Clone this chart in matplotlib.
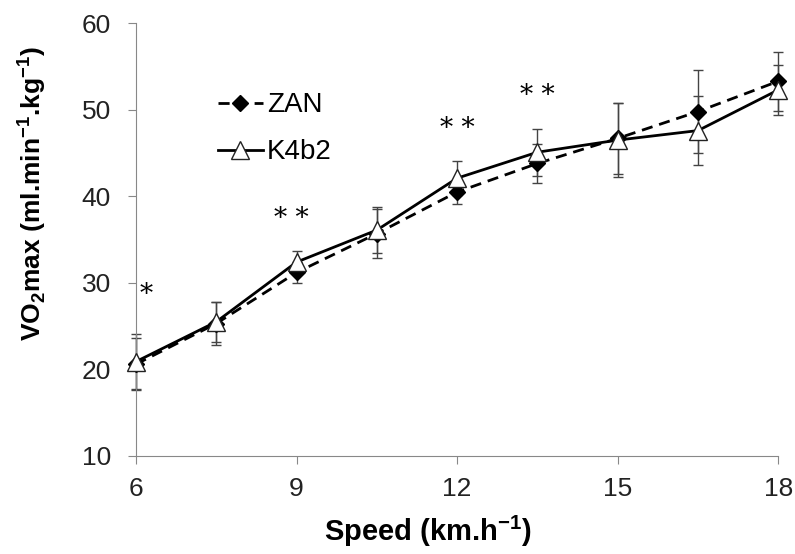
import matplotlib
matplotlib.use('Agg')
import matplotlib.pyplot as plt

plt.rcParams['font.family'] = ['Liberation Sans', 'DejaVu Sans']
plt.rcParams['mathtext.fontset'] = 'custom'
plt.rcParams['mathtext.rm'] = 'Liberation Sans'
plt.rcParams['mathtext.bf'] = 'Liberation Sans:bold'

# speeds (km/h)
speed = [6, 7.5, 9, 10.5, 12, 13.5, 15, 16.5, 18]

# VO2 values
zan = [20.6, 25.3, 31.2, 35.7, 40.5, 43.8, 46.7, 49.8, 53.3]
zan_err = [3.0, 2.5, 1.2, 2.8, 1.4, 2.3, 4.1, 4.8, 3.4]
k4b2 = [20.9, 25.5, 32.4, 36.1, 42.1, 45.1, 46.5, 47.6, 52.3]
k4b2_err = [3.2, 2.3, 1.3, 2.7, 2.0, 2.7, 4.3, 4.0, 2.9]

# significance marks
sig_x = [6.2, 8.9, 12, 13.5]
sig_y = [28.6, 37.4, 47.8, 51.6]
sig_txt = ['*', '* *', '* *', '* *']

fig = plt.figure(figsize=(7.95, 5.54), dpi=100)
ax = fig.add_axes([0.171, 0.177, 0.808, 0.781])

for vals, errs in [(zan, zan_err), (k4b2, k4b2_err)]:
    eb = ax.errorbar(speed, vals, yerr=errs, fmt='none', ecolor='#444444',
                     elinewidth=1, capsize=3.5, capthick=1, zorder=1)
    for art in eb.lines[1] + eb.lines[2]:
        art.set_clip_on(False)

ax.plot(speed, zan, color='black', linestyle=(0, (4, 2.5)), linewidth=2,
        marker='D', markersize=8, markerfacecolor='black',
        markeredgecolor='black', label='ZAN', zorder=3, clip_on=False)
ax.plot(speed, k4b2, color='black', linestyle='-', linewidth=2,
        marker='^', markersize=13, markerfacecolor='white',
        markeredgecolor='#222222', markeredgewidth=1, label='K4b2', zorder=4,
        clip_on=False)

for x, y, t in zip(sig_x, sig_y, sig_txt):
    ax.text(x, y, t, ha='center', va='center', fontsize=19,
            family='DejaVu Serif')

ax.set_xlim(6, 18)
ax.set_ylim(10, 60)
ax.set_xticks([6, 9, 12, 15, 18])
ax.set_yticks([10, 20, 30, 40, 50, 60])

for s in ['top', 'right']:
    ax.spines[s].set_visible(False)
for s in ['left', 'bottom']:
    ax.spines[s].set_color('#888888')
ax.tick_params(axis='both', colors='#888888', labelcolor='#222222',
               labelsize=19, length=6, direction='out')
ax.tick_params(axis='x', pad=9)
ax.tick_params(axis='y', pad=12)

ax.set_xlabel('Speed (km.h$^\\mathbf{-1}$)', fontsize=21, fontweight='bold')
ax.set_ylabel('VO$_\\mathbf{2}$max (ml.min$^\\mathbf{-1}$.kg$^\\mathbf{-1}$)',
              fontsize=19, fontweight='bold')
ax.xaxis.set_label_coords(0.455, -0.134)
ax.yaxis.set_label_coords(-0.137, 0.607)

ax.legend(loc='upper left', bbox_to_anchor=(0.128, 0.84), frameon=False,
          fontsize=20, handlelength=1.6, handletextpad=0.15, labelspacing=0.75,
          borderpad=0, borderaxespad=0)

fig.savefig('out.png', dpi=100)
